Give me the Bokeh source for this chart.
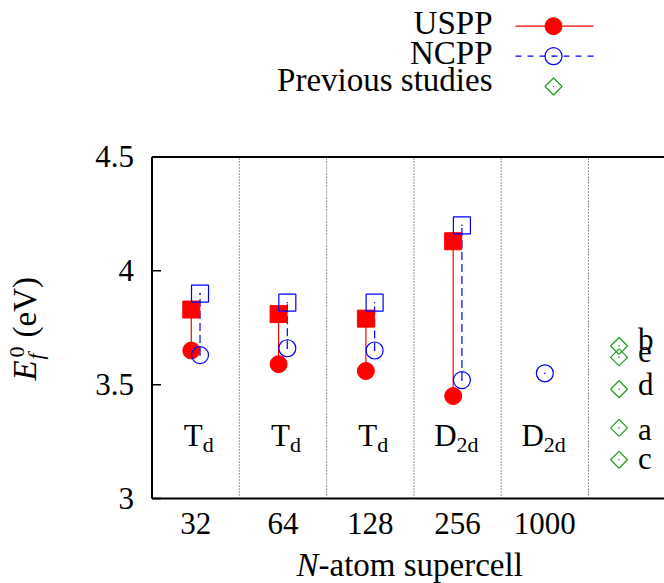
import numpy as np
from bokeh.plotting import figure
from bokeh.models import Range1d
from bokeh.core.properties import value
from bokeh.embed import file_html
from bokeh.resources import INLINE

# ---- data ---------------------------------------------------------------
cells = ["32", "64", "128", "256", "1000"]
symmetry_main = ["T", "T", "T", "D", "D"]
symmetry_sub = ["d", "d", "d", "2d", "2d"]

uspp_unrelaxed = [3.83, 3.81, 3.79, 4.13]
uspp_relaxed = [3.65, 3.59, 3.56, 3.45]
ncpp_unrelaxed = [3.90, 3.86, 3.86, 4.20]
ncpp_relaxed = [3.63, 3.66, 3.65, 3.52, 3.55]

prev_labels = ["a", "b", "c", "d", "e"]
prev_values = [3.31, 3.67, 3.17, 3.48, 3.62]

y_ticks = [3.0, 3.5, 4.0, 4.5]
y_tick_labels = ["3", "3.5", "4", "4.5"]

# ---- layout (pixels) ----------------------------------------------------
# The plotting frame covers the whole canvas; axes, titles and key are
# drawn by hand so mixed italic / sub- and superscript text is possible.
W, H = 664, 583
PX_PER_CELL = 87.3
PX_PER_EV = 227.67
AXIS_X_PX = 151.5         # pixel column of x = -0.5
AXIS_Y_PX = 498.0         # pixel row of y = 3.0

x_start = -0.5 - AXIS_X_PX / PX_PER_CELL
x_end = x_start + W / PX_PER_CELL
y_start = 3.0 - (H - AXIS_Y_PX) / PX_PER_EV
y_end = y_start + H / PX_PER_EV


def dx(px):
    return x_start + px / PX_PER_CELL


def dy(py):
    return y_start + (H - py) / PX_PER_EV


def lift(font_px):
    # distance from the text anchor to the drawn baseline for "alphabetic"
    return 0.375 * font_px


SERIF = value("Liberation Serif")
RED = "#ff0000"
BLUE = "#0000ff"
GREEN = "#1f9a1f"
FS = 31          # tick labels and in-plot text
FS_BIG = 33      # key and axis titles
FS_SUB = 22      # sub- and superscripts

p = figure(width=W, height=H, title=None,
           x_range=Range1d(x_start, x_end), y_range=Range1d(y_start, y_end),
           output_backend="svg", toolbar_location=None,
           min_border=0)
p.outline_line_color = None
p.axis.visible = False
p.grid.visible = False
p.background_fill_color = "white"
p.border_fill_color = "white"

n_cells = len(cells)
y_lo, y_hi = y_ticks[0], y_ticks[-1]
x_left = -0.5

# frame: left, bottom and top borders (right edge lies beyond the canvas)
p.segment(x0=[x_left, x_left, x_left], y0=[y_lo, y_lo, y_hi],
          x1=[x_left, x_end, x_end], y1=[y_hi, y_lo, y_hi],
          line_color="black", line_width=2)
# inward tick marks on the energy axis
p.segment(x0=[x_left] * len(y_ticks), y0=y_ticks,
          x1=[x_left + 9 / PX_PER_CELL] * len(y_ticks), y1=y_ticks,
          line_color="black", line_width=1.5)
# dotted separators between supercells
seps = np.arange(n_cells) + 0.5
p.segment(x0=seps, y0=[y_lo] * n_cells, x1=seps, y1=[y_hi] * n_cells,
          line_color="#333333", line_width=1, line_dash="1 2")

# tick labels
p.text(x=[x_left] * len(y_ticks), y=y_ticks, text=y_tick_labels,
       x_offset=-18, text_font=SERIF, text_font_size=f"{FS}px",
       text_align="right", text_baseline="middle", text_color="black")
p.text(x=list(range(n_cells)), y=[y_lo] * n_cells, text=cells,
       y_offset=37 - lift(FS), text_font=SERIF, text_font_size=f"{FS}px",
       text_align="center", text_baseline="alphabetic", text_color="black")

# ---- series -------------------------------------------------------------
OFF = 0.05
xu = np.arange(len(uspp_relaxed)) - OFF
xn_pair = np.arange(len(ncpp_unrelaxed)) + OFF
xn = np.arange(len(ncpp_relaxed)) + np.where(
    np.arange(len(ncpp_relaxed)) < len(ncpp_unrelaxed), OFF, 0.0)

p.segment(x0=xu, y0=uspp_relaxed, x1=xu, y1=uspp_unrelaxed,
          line_color=RED, line_width=1.2)
p.segment(x0=xn_pair, y0=ncpp_relaxed[:len(ncpp_unrelaxed)],
          x1=xn_pair, y1=ncpp_unrelaxed,
          line_color=BLUE, line_width=1.2, line_dash="8 4")

p.scatter(xu, uspp_unrelaxed, marker="square", size=17,
          fill_color=RED, line_color=RED)
p.scatter(xu, uspp_relaxed, marker="circle", size=17,
          fill_color=RED, line_color=RED)
p.scatter(xn_pair, ncpp_unrelaxed, marker="square", size=17,
          fill_color=None, line_color=BLUE, line_width=1.2)
p.scatter(xn, ncpp_relaxed, marker="circle", size=17,
          fill_color=None, line_color=BLUE, line_width=1.2)
p.scatter(xn_pair, ncpp_unrelaxed, marker="circle", size=1.6,
          fill_color=BLUE, line_color=None)
p.scatter(xn, ncpp_relaxed, marker="circle", size=1.6,
          fill_color=BLUE, line_color=None)

# previous studies, drawn in the last column
x_prev = [n_cells - 0.15] * len(prev_values)
p.scatter(x_prev, prev_values, marker="square", size=12, angle=np.pi / 4,
          fill_color=None, line_color=GREEN, line_width=1.2)
p.scatter(x_prev, prev_values, marker="circle", size=1.6,
          fill_color=GREEN, line_color=None)
p.text(x=x_prev, y=prev_values, text=prev_labels,
       x_offset=19, y_offset=[o - lift(FS) for o in [13, 5, 10, 7, 6]],
       text_font=SERIF, text_font_size=f"{FS}px",
       text_baseline="alphabetic", text_align="left", text_color="black")

# point-group symmetry labels under each supercell
sym_y = [dy(447)] * n_cells
sym_dx = [7 if s == "T" else -1 for s in symmetry_main]
p.text(x=list(range(n_cells)), y=sym_y, text=symmetry_main, x_offset=sym_dx,
       y_offset=-lift(FS), text_font=SERIF, text_font_size=f"{FS}px",
       text_baseline="alphabetic", text_align="right", text_color="black")
p.text(x=list(range(n_cells)), y=sym_y, text=symmetry_sub, x_offset=sym_dx,
       y_offset=5 - lift(FS_SUB), text_font=SERIF,
       text_font_size=f"{FS_SUB}px",
       text_baseline="alphabetic", text_align="left", text_color="black")

# ---- key ----------------------------------------------------------------
key_text = ["USPP", "NCPP", "Previous studies"]
key_base = [dy(px - lift(FS_BIG)) for px in (35, 65, 92)]
ky = [dy(25.7), dy(55.7), dy(86)]
p.text(x=[dx(492)] * 3, y=key_base, text=key_text,
       text_font=SERIF, text_font_size=f"{FS_BIG}px",
       text_align="right", text_baseline="alphabetic", text_color="black")
p.segment(x0=[dx(515)], y0=[ky[0]], x1=[dx(593)], y1=[ky[0]],
          line_color=RED, line_width=1.2)
p.scatter([dx(553)], [ky[0]], marker="circle", size=17,
          fill_color=RED, line_color=RED)
p.segment(x0=[dx(515)], y0=[ky[1]], x1=[dx(593)], y1=[ky[1]],
          line_color=BLUE, line_width=1.2, line_dash="6 6")
p.scatter([dx(553)], [ky[1]], marker="circle", size=17,
          fill_color=None, line_color=BLUE, line_width=1.2)
p.scatter([dx(553)], [ky[1]], marker="circle", size=1.6,
          fill_color=BLUE, line_color=None)
p.scatter([dx(553)], [ky[2]], marker="square", size=12, angle=np.pi / 4,
          fill_color=None, line_color=GREEN, line_width=1.2)
p.scatter([dx(553)], [ky[2]], marker="circle", size=1.6,
          fill_color=GREEN, line_color=None)

# ---- axis titles --------------------------------------------------------
title_y = dy(577 - lift(FS_BIG))
p.text(x=[dx(318)], y=[title_y], text=["N"], text_font=SERIF,
       text_font_style="italic", text_font_size=f"{FS_BIG}px",
       text_align="right", text_baseline="alphabetic", text_color="black")
p.text(x=[dx(318)], y=[title_y], text=["-atom supercell"], text_font=SERIF,
       text_font_size=f"{FS_BIG}px",
       text_align="left", text_baseline="alphabetic", text_color="black")

rot = np.pi / 2
p.text(x=[dx(37 - lift(FS_BIG))], y=[dy(380)], text=["E"], angle=rot,
       text_font=SERIF, text_font_style="italic",
       text_font_size=f"{FS_BIG}px",
       text_align="left", text_baseline="alphabetic", text_color="black")
p.text(x=[dx(43 - lift(FS_SUB))], y=[dy(359)], text=["f"], angle=rot,
       text_font=SERIF, text_font_style="italic",
       text_font_size=f"{FS_SUB}px",
       text_align="left", text_baseline="alphabetic", text_color="black")
p.text(x=[dx(25 - lift(FS_SUB))], y=[dy(357)], text=["0"], angle=rot,
       text_font=SERIF, text_font_size=f"{FS_SUB}px",
       text_align="left", text_baseline="alphabetic", text_color="black")
p.text(x=[dx(37 - lift(FS_BIG))], y=[dy(337)], text=["(eV)"], angle=rot,
       text_font=SERIF, text_font_size=f"{FS_BIG}px",
       text_align="left", text_baseline="alphabetic", text_color="black")

open("out.html", "w").write(file_html(p, INLINE))
